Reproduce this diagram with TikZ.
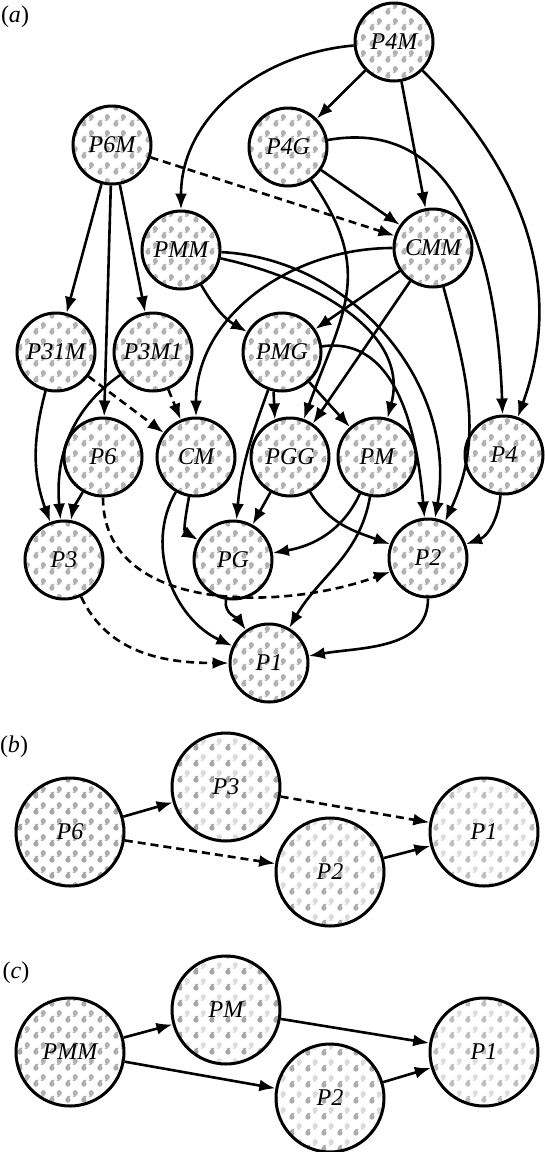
\documentclass[tikz,border=0pt]{standalone}
\usepackage{fontspec}
\setmainfont{Liberation Serif}
\usetikzlibrary{arrows.meta,patterns}

% comma shaped motifs, two offsets so two tones can be mixed
\pgfdeclarepatternformonly{dropsA}{\pgfpointorigin}{\pgfpoint{8pt}{8pt}}{\pgfpoint{8pt}{8pt}}{
  \pgfpathcircle{\pgfpoint{2.05pt}{2.05pt}}{1.35pt}
  \pgfusepath{fill}
  \pgfpathmoveto{\pgfpoint{3.3pt}{2.2pt}}
  \pgfpathcurveto{\pgfpoint{3.0pt}{3.0pt}}{\pgfpoint{2.55pt}{4.0pt}}{\pgfpoint{3.45pt}{4.45pt}}
  \pgfpathcurveto{\pgfpoint{2.05pt}{4.6pt}}{\pgfpoint{0.8pt}{3.65pt}}{\pgfpoint{0.8pt}{2.2pt}}
  \pgfpathclose
  \pgfusepath{fill}
}
\pgfdeclarepatternformonly{dropsB}{\pgfpointorigin}{\pgfpoint{8pt}{8pt}}{\pgfpoint{8pt}{8pt}}{
  \pgfpathcircle{\pgfpoint{5.95pt}{5.95pt}}{1.35pt}
  \pgfusepath{fill}
  \pgfpathmoveto{\pgfpoint{4.7pt}{5.8pt}}
  \pgfpathcurveto{\pgfpoint{5.0pt}{5.0pt}}{\pgfpoint{5.45pt}{4.0pt}}{\pgfpoint{4.55pt}{3.55pt}}
  \pgfpathcurveto{\pgfpoint{5.95pt}{3.4pt}}{\pgfpoint{7.2pt}{4.35pt}}{\pgfpoint{7.2pt}{5.8pt}}
  \pgfpathclose
  \pgfusepath{fill}
}

\newcommand\grpfont{\itshape\fontsize{12}{14}\selectfont}

\tikzset{
  grp/.style={circle, draw, line width=1.5pt, inner sep=0pt, minimum size=39pt,
    font=\grpfont, preaction={fill=white}},
  tones/.style 2 args={preaction={pattern=dropsA, pattern color=#1},
    preaction={pattern=dropsB, pattern color=#2}},
  bigger/.style={minimum size=54pt},
  arr/.style={-{Latex[length=8pt,width=6pt]}, line width=1.3pt},
  dsh/.style={arr, dash pattern=on 4pt off 2.5pt},
  panel/.style={font=\fontsize{12}{14}\selectfont},
}

\begin{document}
\begin{tikzpicture}[x=0.5pt, y=0.5pt]
\useasboundingbox (0,0) rectangle (545,-1152);

%% (a) the whole lattice
\node[panel] (lblA) at (15,-17) {(\textit{a})};
\foreach \n/\x/\y in {P4M/394/42, P6M/112/145, P4G/288/147, PMM/181/250, CMM/433/248,
    P31M/56/352, P3M1/153/352, PMG/282/352, P6/103/457, CM/196/457, PGG/290/457,
    PM/377/457, P4/504/455, P3/64/560, PG/233/560, P2/428/558, P1/269/663}{
  \node[grp, tones={gray!60}{gray!60}] (\n) at (\x,-\y) {\n};
}
\foreach \a/\b in {P4M/P4G, P4M/CMM, P4G/CMM, P6M/P31M, P6M/P6, P6M/P3M1,
    CMM/PMG, CMM/PGG, PMG/PM, PGG/PG}{
  \draw[arr] (\a) -- (\b);
}
\draw[arr] (PMG.-102) -- (PGG.112);
\foreach \a/\b in {P6M/CMM, P31M/CM, P3M1/CM}{
  \draw[dsh] (\a) -- (\b);
}
\draw[arr] (P4M) to[out=185, in=90] (PMM);
\draw[arr] (P4M) to[out=-45, in=70] (P4);
\draw[arr] (P4G) to[out=10, in=92, looseness=1.1] (P4);
\draw[arr] (P4G) to[out=-55, in=70, looseness=1.2] (PGG);
\draw[arr] (PMM) to[out=-60, in=150] (PMG);
\draw[arr] (PMM) to[out=-12, in=75] (PM);
\draw[arr] (PMM) to[out=-3, in=80] (P2);
\draw[arr] (CMM) to[out=180, in=90] (CM);
\draw[arr] (CMM) to[out=-75, in=65] (P2);
\draw[arr] (PMG) to[out=-110, in=85] (PG);
\draw[arr] (PMG) to[out=8, in=95] (P2);
\draw[arr] (P31M) to[out=-105, in=110] (P3);
\draw[arr] (P3M1) to[out=-145, in=95] (P3);
\draw[arr] (P6) to[out=-120, in=80] (P3);
\draw[dsh] (P6) to[out=-90, in=200] (P2);
\draw[dsh] (P3) to[out=-65, in=180] (P1);
\draw[arr] (CM) to[out=-100, in=150] (PG);
\draw[arr] (CM) to[out=-120, in=155] (P1);
\draw[arr] (PGG) to[out=-60, in=160] (P2);
\draw[arr] (PM) to[out=-115, in=10] (PG);
\draw[arr] (PM) to[out=-100, in=60] (P1);
\draw[arr] (P4) to[out=-95, in=20] (P2);
\draw[arr] (PG) to[out=-100, in=125] (P1);
\draw[arr] (P2) to[out=-90, in=10] (P1);

%% (b)
\node[panel] (lblB) at (14,-747) {(\textit{b})};
\node[grp, bigger, tones={gray!70}{gray!65}] (P6b) at (70,-832) {P6};
\node[grp, bigger, tones={gray!70}{gray!28}] (P3b) at (226,-787) {P3};
\node[grp, bigger, tones={gray!65}{gray!28}] (P2b) at (330,-872) {P2};
\node[grp, bigger, tones={gray!50}{gray!25}] (P1b) at (484,-832) {P1};
\draw[arr] (P6b) -- (P3b);
\draw[dsh] (P6b) -- (P2b);
\draw[dsh] (P3b) -- (P1b);
\draw[arr] (P2b) -- (P1b);

%% (c)
\node[panel] (lblC) at (16,-973) {(\textit{c})};
\node[grp, bigger, tones={gray!65}{gray!60}] (PMMc) at (70,-1052) {PMM};
\node[grp, bigger, tones={gray!70}{gray!25}] (PMc) at (226,-1010) {PM};
\node[grp, bigger, tones={gray!65}{gray!28}] (P2c) at (330,-1098) {P2};
\node[grp, bigger, tones={gray!50}{gray!25}] (P1c) at (484,-1052) {P1};
\draw[arr] (PMMc) -- (PMc);
\draw[arr] (PMMc) -- (P2c);
\draw[arr] (PMc) -- (P1c);
\draw[arr] (P2c) -- (P1c);
\end{tikzpicture}
\end{document}
